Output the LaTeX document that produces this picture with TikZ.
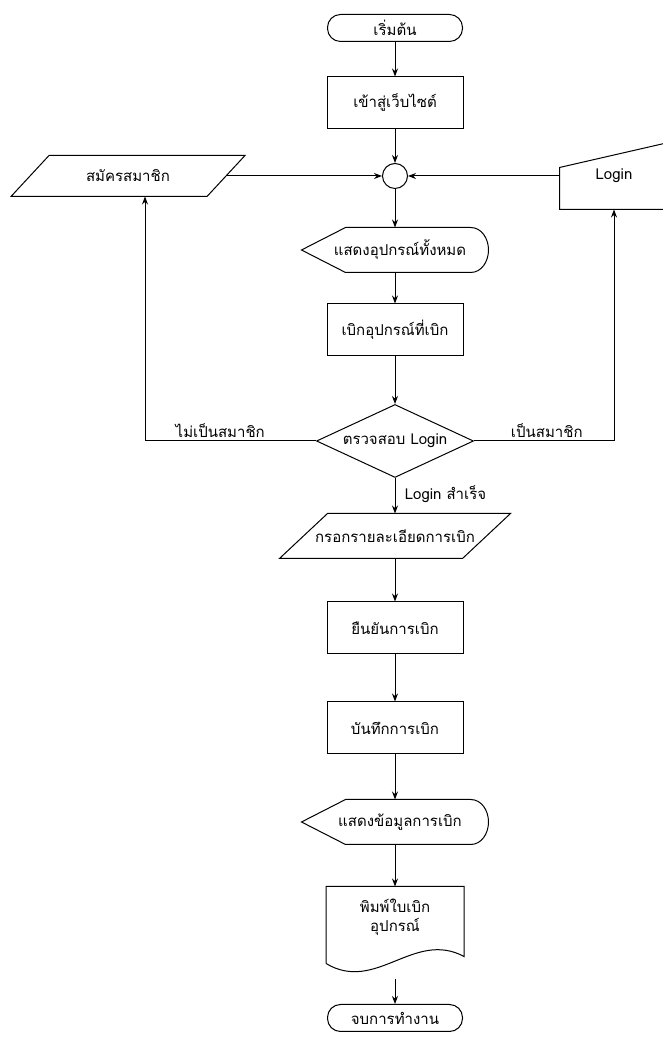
\documentclass[tikz,border=0pt]{standalone}
\usepackage{fontspec}
\newfontfamily\thaifont[Script=Thai]{Loma}
\usetikzlibrary{arrows.meta,calc,positioning,shapes.geometric}

% outlines drawn round plain nodes
\newcommand{\dispoutline}[1]{\draw ($(#1.north west)+(44,0)$) -- ($(#1.north east)+(-18,0)$)
  to[out=0,in=90] (#1.east) to[out=-90,in=0] ($(#1.south east)+(-18,0)$)
  -- ($(#1.south west)+(44,0)$) -- (#1.west) -- cycle;}
\newcommand{\iooutline}[2]{\draw (#1.south west) -- ($(#1.north west)+(#2,0)$)
  -- (#1.north east) -- ($(#1.south east)+(-#2,0)$) -- cycle;}
\newcommand{\docoutline}[1]{\draw ($(#1.south west)+(0,8)$) -- (#1.north west) -- (#1.north east)
  -- ($(#1.south east)+(0,15)$) .. controls ($(#1.south east)+(-50,42)$) and ($(#1.south west)+(50,-22)$) .. ($(#1.south west)+(0,8)$);}

\begin{document}
\begin{tikzpicture}[x=1pt,y=1pt,>={Stealth[length=8pt,width=6pt]},line width=1pt,
                    every node/.style={font=\thaifont\fontsize{15}{19}\selectfont},
                    term/.style={rectangle,draw,rounded corners=13pt,minimum width=135pt,minimum height=27pt},
                    proc/.style={rectangle,draw,minimum width=136pt,minimum height=52pt},
                    conn/.style={circle,draw,minimum size=25pt,inner sep=0pt},
                    disp/.style={rectangle,minimum width=186pt,minimum height=44pt},
                    io/.style={rectangle,minimum height=40pt},
                    decide/.style={diamond,draw,aspect=2.15,minimum width=157pt,minimum height=73pt,inner sep=0pt}]
  \useasboundingbox (0,0) rectangle (662,1041);
  \node[term] (start) at (395,1013) {เริ่มต้น};
  \node[proc] (site) [below of=start,node distance=75pt] {เข้าสู่เว็บไซต์};
  \node[conn] (join) [below of=site,node distance=73pt] {};
  \node[io,minimum width=233pt] (signup) [left of=join,node distance=267pt] {สมัครสมาชิก};
  \node[rectangle,minimum width=108pt,minimum height=66pt] (login) [right of=join,node distance=219pt] {Login};
  \node[disp] (showall) [below of=join,node distance=74pt] {\hspace{10pt}แสดงอุปกรณ์ทั้งหมด};
  \node[proc] (pick) [below of=showall,node distance=80pt] {เบิกอุปกรณ์ที่เบิก};
  \node[decide] (check) [below of=pick,node distance=111pt] {ตรวจสอบ Login};
  \node[io,minimum width=230pt,minimum height=44pt] (form) [below of=check,node distance=95pt] {กรอกรายละเอียดการเบิก};
  \node[proc] (confirm) [below of=form,node distance=92pt] {ยืนยันการเบิก};
  \node[proc] (save) [below of=confirm,node distance=100pt] {บันทึกการเบิก};
  \node[disp] (showinfo) [below of=save,node distance=94pt] {\hspace{10pt}แสดงข้อมูลการเบิก};
  \node[rectangle,minimum width=137pt,minimum height=84pt,align=center] (print) [below of=showinfo,node distance=107pt] {พิมพ์ใบเบิก\\อุปกรณ์\\[8pt]};
  \node[term] (finish) [below of=print,node distance=89pt] {จบการทำงาน};

  % shape outlines
  \dispoutline{showall}
  \dispoutline{showinfo}
  \iooutline{signup}{38}
  \iooutline{form}{48}
  \docoutline{print}
  \draw (login.north east) -- ($(login.north west)+(0,-25)$) -- (login.south west) -- (login.south east);

  \path[->]
    (start) edge (site)
    (site) edge (join)
    ($(signup.east)+(-19,0)$) edge (join)
    (login.west) edge (join)
    (join) edge (showall)
    (showall) edge (pick)
    (pick) edge (check)
    (check) edge node[right,pos=0.45,xshift=6pt] {Login สำเร็จ} (form)
    (form) edge (confirm)
    (confirm) edge (save)
    (save) edge (showinfo)
    (showinfo) edge (print)
    ($(print.south)+(0,-8)$) edge (finish);
  \draw[->] (check.west) -| node[above,pos=0.28] {ไม่เป็นสมาชิก} ([xshift=17pt]signup.south);
  \draw[->] (check.east) -| node[above,pos=0.26] {เป็นสมาชิก} (login.south);
\end{tikzpicture}
\end{document}
